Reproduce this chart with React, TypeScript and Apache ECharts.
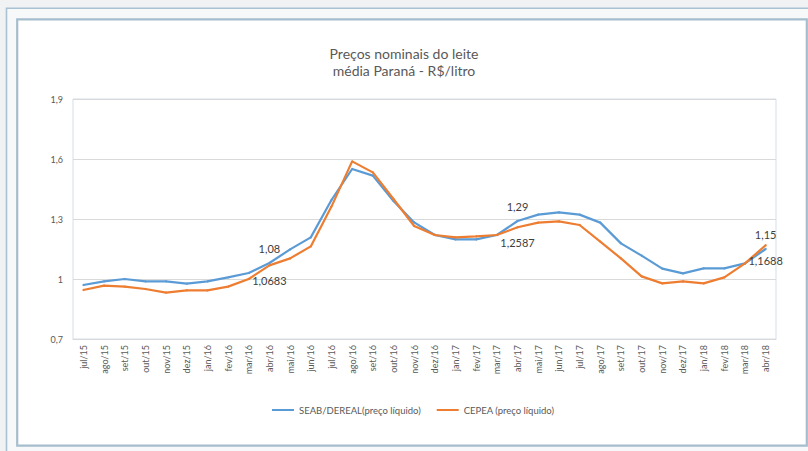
import React, { useEffect, useRef } from "react";
import * as echarts from "echarts";

const categories = [
  "jul/15", "ago/15", "set/15", "out/15", "nov/15", "dez/15",
  "jan/16", "fev/16", "mar/16", "abr/16", "mai/16", "jun/16", "jul/16", "ago/16", "set/16", "out/16", "nov/16", "dez/16",
  "jan/17", "fev/17", "mar/17", "abr/17", "mai/17", "jun/17", "jul/17", "ago/17", "set/17", "out/17", "nov/17", "dez/17",
  "jan/18", "fev/18", "mar/18", "abr/18",
];

const seab = [
  0.97, 0.988, 1.0, 0.988, 0.988, 0.977,
  0.988, 1.008, 1.03, 1.08, 1.148, 1.208, 1.395, 1.55, 1.517, 1.39, 1.283, 1.22,
  1.198, 1.198, 1.22, 1.29, 1.322, 1.333, 1.322, 1.282, 1.178, 1.117, 1.052, 1.028,
  1.053, 1.053, 1.078, 1.15,
];

const cepea = [
  0.945, 0.967, 0.962, 0.95, 0.932, 0.943,
  0.943, 0.962, 1.0, 1.0683, 1.103, 1.163, 1.362, 1.588, 1.533, 1.4, 1.265, 1.22,
  1.208, 1.213, 1.22, 1.2587, 1.282, 1.288, 1.27, 1.187, 1.103, 1.013, 0.978, 0.988,
  0.978, 1.008, 1.078, 1.1688,
];

const yTicks = [0.7, 1, 1.3, 1.6, 1.9];
const labelIndices = [9, 21, 33];

const seriesNames = ["SEAB/DEREAL(preço líquido)", "CEPEA (preço líquido)"];
const titleText = "Preços nominais do leite\nmédia Paraná - R$/litro";

const FONT = "Lato, 'Open Sans', sans-serif";
const fmt = (v: number) => String(v).replace(".", ",");

export default function App() {
  const ref = useRef<HTMLDivElement>(null);

  useEffect(() => {
    if (!ref.current) return;
    const chart = echarts.init(ref.current, null, { renderer: "svg" });

    const mkData = (arr: number[], pos: "top" | "bottom") =>
      arr.map((v, i) =>
        labelIndices.includes(i)
          ? { value: v, label: { show: true, position: pos } }
          : v
      );

    chart.setOption({
      animation: false,
      backgroundColor: "#f1f2f4",
      textStyle: { fontFamily: FONT },
      graphic: [
        {
          type: "rect",
          z: -10,
          silent: true,
          shape: { x: 6.5, y: 8.2, width: 840, height: 480 },
          style: { fill: "#f7f8fa", stroke: "#a9c1d1", lineWidth: 1.6 },
        },
        {
          type: "rect",
          z: -9,
          silent: true,
          shape: { x: 17.2, y: 19.3, width: 789.6, height: 426.4 },
          style: { fill: "#ffffff", stroke: "#a6bdcd", lineWidth: 2.2 },
        },
      ],
      title: {
        text: titleText,
        left: "center",
        top: 45,
        padding: 0,
        textStyle: {
          fontFamily: FONT,
          fontSize: 14,
          fontWeight: "normal",
          color: "#595959",
          lineHeight: 17,
        },
      },
      legend: {
        left: 272,
        top: 405,
        padding: 0,
        icon: "rect",
        itemWidth: 22,
        itemHeight: 2,
        itemGap: 16,
        data: seriesNames,
        textStyle: { fontFamily: FONT, fontSize: 9.5, color: "#595959" },
      },
      grid: {
        left: 73,
        right: 32,
        top: 99,
        bottom: 112,
        show: true,
        borderColor: "#d3dfea",
        borderWidth: 1,
        backgroundColor: "transparent",
      },
      xAxis: {
        type: "category",
        data: categories,
        boundaryGap: true,
        axisTick: { show: false },
        axisLine: { lineStyle: { color: "#d9d9d9", width: 1 } },
        axisLabel: {
          rotate: 90,
          interval: 0,
          margin: 6,
          fontSize: 9,
          color: "#595959",
          fontFamily: FONT,
        },
        splitLine: { show: false },
      },
      yAxis: {
        type: "value",
        min: 0.7,
        max: 1.9,
        axisLine: { show: false },
        axisTick: { show: false, customValues: yTicks },
        axisLabel: {
          customValues: yTicks,
          margin: 10,
          fontSize: 9,
          color: "#595959",
          fontFamily: FONT,
          formatter: (v: number) => fmt(Math.round(v * 10) / 10),
        },
        splitLine: { show: true, lineStyle: { color: "#d9d9d9", width: 1 } },
      },
      series: [
        {
          name: seriesNames[0],
          type: "line",
          data: mkData(seab, "top"),
          symbol: "circle",
          symbolSize: 2,
          showSymbol: true,
          itemStyle: { color: "#5b9bd5" },
          lineStyle: { color: "#5b9bd5", width: 2.2 },
          label: {
            show: false,
            distance: 8,
            fontSize: 11,
            color: "#404040",
            fontFamily: FONT,
            formatter: (p: any) => fmt(p.value),
          },
          z: 3,
        },
        {
          name: seriesNames[1],
          type: "line",
          data: mkData(cepea, "bottom"),
          symbol: "circle",
          symbolSize: 2,
          showSymbol: true,
          itemStyle: { color: "#ed7d31" },
          lineStyle: { color: "#ed7d31", width: 2.2 },
          label: {
            show: false,
            distance: 9,
            fontSize: 11,
            color: "#404040",
            fontFamily: FONT,
            formatter: (p: any) => fmt(p.value),
          },
          z: 4,
        },
      ],
    });

    return () => chart.dispose();
  }, []);

  return (
    <div
      ref={ref}
      style={{ position: "fixed", left: 0, top: 0, width: 808, height: 451 }}
    />
  );
}
